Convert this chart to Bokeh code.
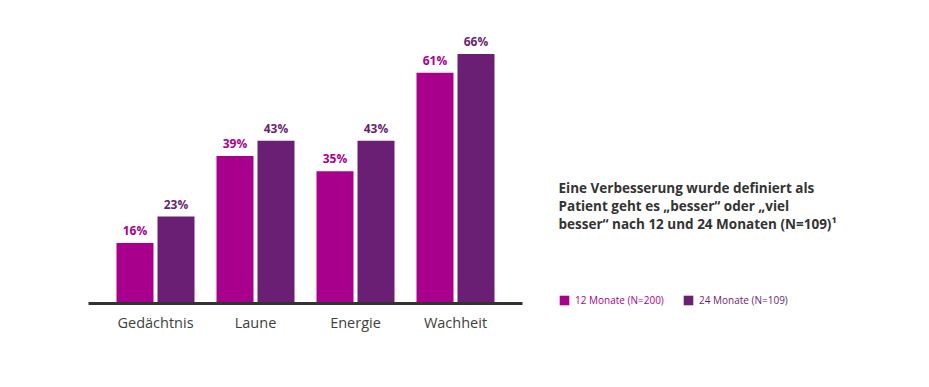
from bokeh.plotting import figure
from bokeh.models import ColumnDataSource, FactorRange, Range1d, Legend, LegendItem
from bokeh.transform import dodge
from bokeh.core.properties import value
from bokeh.layouts import row
from bokeh.embed import file_html
from bokeh.resources import INLINE

categories = ["Gedächtnis", "Laune", "Energie", "Wachheit"]
m12 = [16, 39, 35, 61]
m24 = [23, 43, 43, 66]
series_names = ["12 Monate (N=200)", "24 Monate (N=109)"]
title_lines = [
    "Eine Verbesserung wurde definiert als",
    "Patient geht es \u201ebesser\u201c oder \u201eviel",
    "besser\u201c nach 12 und 24 Monaten (N=109)\u00b9",
]

C12 = "#A8008C"
C24 = "#6A1F74"
FONT = "Open Sans"

src = ColumnDataSource(dict(
    cat=categories, m12=m12, m24=m24,
    l12=[f"{v}%" for v in m12], l24=[f"{v}%" for v in m24],
))

p = figure(width=538, height=379, x_range=FactorRange(*categories, range_padding=0.17, range_padding_units="absolute"),
           y_range=Range1d(0, 78), output_backend="svg", toolbar_location=None,
           min_border_left=88, min_border_right=16, min_border_top=8, min_border_bottom=76)
p.vbar(x=dodge("cat", -0.205, range=p.x_range), top="m12", width=0.37, source=src,
       fill_color=C12, line_color=None)
p.vbar(x=dodge("cat", 0.205, range=p.x_range), top="m24", width=0.37, source=src,
       fill_color=C24, line_color=None)
p.text(x=dodge("cat", -0.205, range=p.x_range), y="m12", text="l12", source=src,
       y_offset=-4, text_align="center", text_baseline="bottom", text_color=C12,
       text_font=value(FONT), text_font_style="bold", text_font_size="12px")
p.text(x=dodge("cat", 0.205, range=p.x_range), y="m24", text="l24", source=src,
       y_offset=-4, text_align="center", text_baseline="bottom", text_color=C24,
       text_font=value(FONT), text_font_style="bold", text_font_size="12px")

p.yaxis.visible = False
p.xgrid.visible = False
p.ygrid.visible = False
p.outline_line_color = None
p.xaxis.axis_line_color = "#333333"
p.xaxis.axis_line_width = 3
p.xaxis.major_tick_line_color = None
p.xaxis.minor_tick_line_color = None
p.xaxis.major_label_text_font = FONT
p.xaxis.major_label_text_font_size = "14.5px"
p.xaxis.major_label_text_color = "#404040"
p.xaxis.major_label_standoff = 3

q = figure(width=383, height=379, x_range=Range1d(0, 383), y_range=Range1d(339, 8),
           output_backend="svg", toolbar_location=None,
           min_border_left=0, min_border_right=0, min_border_top=8, min_border_bottom=40)
if "frame_align" in q.properties():
    q.frame_align = False
    p.frame_align = False
q.axis.visible = False
q.grid.visible = False
q.outline_line_color = None
tsrc = ColumnDataSource(dict(x=[20, 20, 20], y=[187, 205, 223], t=title_lines))
q.text(x="x", y="y", text="t", source=tsrc, text_align="left", text_baseline="middle",
       text_color="#333333", text_font=value(FONT), text_font_style="bold", text_font_size="13.5px")

# hidden proxy renderers that only supply the legend swatches
r12 = q.quad(left=[0], right=[1], top=[1], bottom=[0], fill_color=C12, line_color=None, visible=False)
r24 = q.quad(left=[0], right=[1], top=[1], bottom=[0], fill_color=C24, line_color=None, visible=False)

for r, name, col, loc in [(r12, series_names[0], C12, (20, 32)), (r24, series_names[1], C24, (144, 32))]:
    lg = Legend(items=[LegendItem(label=name, renderers=[r])], location=loc,
                orientation="horizontal", padding=0, margin=0, border_line_color=None,
                background_fill_alpha=0, glyph_width=12, glyph_height=12, label_standoff=5,
                label_text_font=FONT, label_text_font_size="10px", label_text_color=col,
                label_height=12, inactive_fill_alpha=0)
    q.add_layout(lg, "center")

layout = row(p, q, spacing=0)
open("out.html", "w").write(file_html(layout, INLINE))
